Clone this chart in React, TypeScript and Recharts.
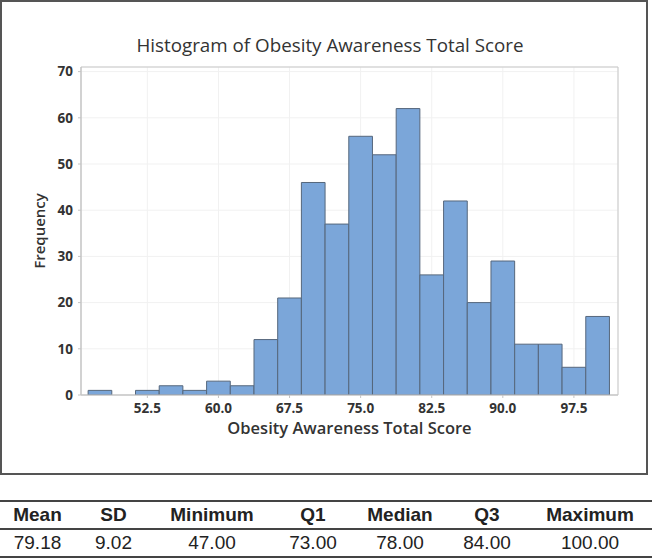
import { ComposedChart, Bar, XAxis, YAxis, CartesianGrid, ReferenceArea } from 'recharts';

// histogram bins (centres) and counts
const binMids = [47.5, 50, 52.5, 55, 57.5, 60, 62.5, 65, 67.5, 70, 72.5, 75, 77.5, 80, 82.5, 85, 87.5, 90, 92.5, 95, 97.5, 100];
const frequencies = [1, 0, 1, 2, 1, 3, 2, 12, 21, 46, 37, 56, 52, 62, 26, 42, 20, 29, 11, 11, 6, 17];
const xTicks = [52.5, 60, 67.5, 75, 82.5, 90, 97.5];
const yTicks = [0, 10, 20, 30, 40, 50, 60, 70];

// summary table
const statLabels = ['Mean', 'SD', 'Minimum', 'Q1', 'Median', 'Q3', 'Maximum'];
const statValues = ['79.18', '9.02', '47.00', '73.00', '78.00', '84.00', '100.00'];

const BIN_WIDTH = 2.5;
const X_MIN = 45.5;
const X_MAX = 102.15;
const Y_MAX = 71;

const CHART_W = 652;
const CHART_H = 474;
const margin = { top: 67, right: 34, bottom: 38, left: 40 };
const Y_AXIS_W = 41;
const X_AXIS_H = 41;

const plotWidth = CHART_W - margin.left - margin.right - Y_AXIS_W;
// a hair under the bin spacing so recharts doesn't shrink the bars
const barSize = ((plotWidth * BIN_WIDTH) / (X_MAX - X_MIN)) * 0.999;

const colWidths = [75, 77, 120, 82, 92, 82, 124];

const tickStyle = { fill: '#333', fontSize: 13.5, fontWeight: 700, fontFamily: 'Open Sans' };
const axisLabel = { fill: '#333', fontWeight: 600, fontFamily: 'Open Sans', textAnchor: 'middle' as const };

export default function App() {
    const data = binMids.map((mid, i) => ({ mid, count: frequencies[i] }));

    return (
        <div style={{ position: 'absolute', left: 0, top: 0, width: 652, height: 558, background: '#fff' }}>
            <div
                style={{
                    position: 'absolute', left: 0, top: 0, width: 648, height: 475,
                    border: '2px solid #555', boxSizing: 'border-box',
                }}
            />
            <div
                style={{
                    position: 'absolute', left: 0, top: 33, width: 660, textAlign: 'center',
                    fontFamily: 'Open Sans', fontSize: 18.8, lineHeight: '24px', color: '#333',
                }}
            >
                Histogram of Obesity Awareness Total Score
            </div>
            <div style={{ position: 'absolute', left: 0, top: 0 }}>
                <ComposedChart width={CHART_W} height={CHART_H} data={data} margin={margin}>
                    <CartesianGrid stroke="#f1f1f1" />
                    <XAxis
                        dataKey="mid"
                        type="number"
                        domain={[X_MIN, X_MAX]}
                        ticks={xTicks}
                        tickFormatter={(v: number) => v.toFixed(1)}
                        height={X_AXIS_H}
                        tick={tickStyle}
                        tickSize={3}
                        tickMargin={5}
                        axisLine={{ stroke: '#c4c4c4' }}
                        tickLine={{ stroke: '#c4c4c4' }}
                        allowDataOverflow
                        label={{
                            value: 'Obesity Awareness Total Score', position: 'insideBottom', offset: 2,
                            style: { ...axisLabel, fontSize: 16.5 },
                        }}
                    />
                    <YAxis
                        type="number"
                        domain={[0, Y_MAX]}
                        ticks={yTicks}
                        width={Y_AXIS_W}
                        tick={tickStyle}
                        tickSize={3}
                        tickMargin={5}
                        axisLine={{ stroke: '#c4c4c4' }}
                        tickLine={{ stroke: '#c4c4c4' }}
                        allowDataOverflow
                        label={{
                            value: 'Frequency', angle: -90, position: 'insideLeft', offset: 0,
                            style: { ...axisLabel, fontSize: 15 },
                        }}
                    />
                    <ReferenceArea x1={X_MIN} x2={X_MAX} y1={0} y2={Y_MAX} fill="none" stroke="#c8c8c8" />
                    <Bar
                        dataKey="count"
                        fill="#7BA6D9"
                        stroke="#56677C"
                        strokeWidth={1}
                        barSize={barSize}
                        isAnimationActive={false}
                    />
                </ComposedChart>
            </div>
            <table
                style={{
                    position: 'absolute', left: 0, top: 500, width: 652, borderCollapse: 'collapse',
                    tableLayout: 'fixed', fontFamily: 'Liberation Sans', fontSize: 19, color: '#222',
                }}
            >
                <colgroup>
                    {colWidths.map((w, i) => <col key={i} style={{ width: w }} />)}
                </colgroup>
                <tbody>
                    <tr style={{ borderTop: '2px solid #444', borderBottom: '2px solid #444', height: 28 }}>
                        {statLabels.map((s) => (
                            <td key={s} style={{ textAlign: 'center', fontWeight: 700, padding: 0 }}>{s}</td>
                        ))}
                    </tr>
                    <tr style={{ borderBottom: '2px solid #444', height: 28 }}>
                        {statValues.map((s, i) => (
                            <td key={i} style={{ textAlign: 'center', padding: 0 }}>{s}</td>
                        ))}
                    </tr>
                </tbody>
            </table>
        </div>
    );
}
